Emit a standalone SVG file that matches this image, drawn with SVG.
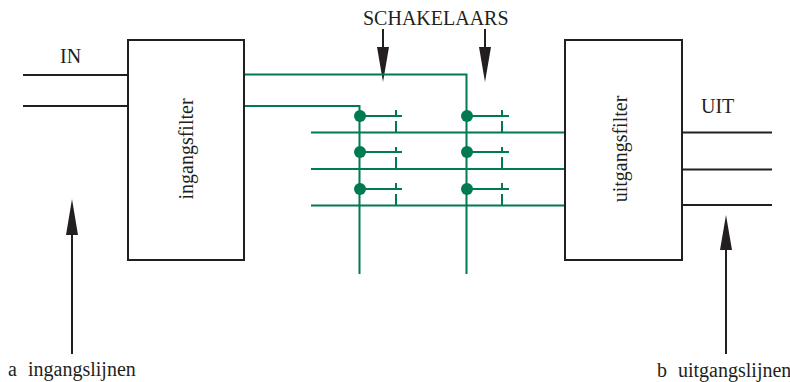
<svg xmlns="http://www.w3.org/2000/svg" width="790" height="382" viewBox="0 0 790 382">
<style>
text{font-family:"Liberation Serif","Times New Roman",serif;font-size:20px;fill:#231f20}
.k{fill:none;stroke:#231f20;stroke-width:2}
.box{fill:#fff;stroke:#231f20;stroke-width:2}
.g{fill:none;stroke:#007a53;stroke-width:2}
.ah{fill:#231f20}
.d{fill:#007a53}
</style>
<rect width="790" height="382" fill="#fff"/>
<g id="connectors">
<path class="k" d="M23 75H128M23 106H128M682 132.500H772M682 169.500H772M682 205H772"/>
<path class="k" d="M72 354V232M383 29V60M485 29V60M726 354V250"/>
<path class="ah" d="M72 199L66 235H78ZM383 82L377 47H389ZM485 82L479 47H491ZM726 215L720 250H732Z"/>
<path class="g" d="M244 74.500H466.500V274M244 106H359.500V274M311 132.500H565M311 169H565M311 205.500H565"/>
<path class="g" d="M360 116H402M360 152H402M360 189H402M467 116H509M467 152H509M467 189H509"/>
<path class="g" d="M396 110V115M396 121V132M396 147V151M396 157V169M396 183V188M396 194V205M502 110V115M502 121V132M502 147V151M502 157V169M502 183V188M502 194V205"/>
<g class="d"><circle cx="360" cy="116" r="6"/><circle cx="360" cy="152" r="6"/><circle cx="360" cy="189" r="6"/><circle cx="467" cy="116" r="6"/><circle cx="467" cy="152" r="6"/><circle cx="467" cy="189" r="6"/></g>
</g>
<g id="ingangsfilter"><rect class="box" x="128" y="40" width="116" height="220"/><text transform="translate(193 149) rotate(-90)" text-anchor="middle">ingangsfilter</text></g>
<g id="uitgangsfilter"><rect class="box" x="565" y="40" width="117" height="220"/><text transform="translate(627 149) rotate(-90)" text-anchor="middle">uitgangsfilter</text></g>
<g id="labels">
<text x="60" y="63">IN</text>
<text x="701" y="113">UIT</text>
<text x="363" y="25">SCHAKELAARS</text>
<text x="8" y="376">a</text><text x="28" y="376">ingangslijnen</text>
<text x="657" y="377">b</text><text x="678" y="377">uitgangslijnen</text>
</g>
</svg>
